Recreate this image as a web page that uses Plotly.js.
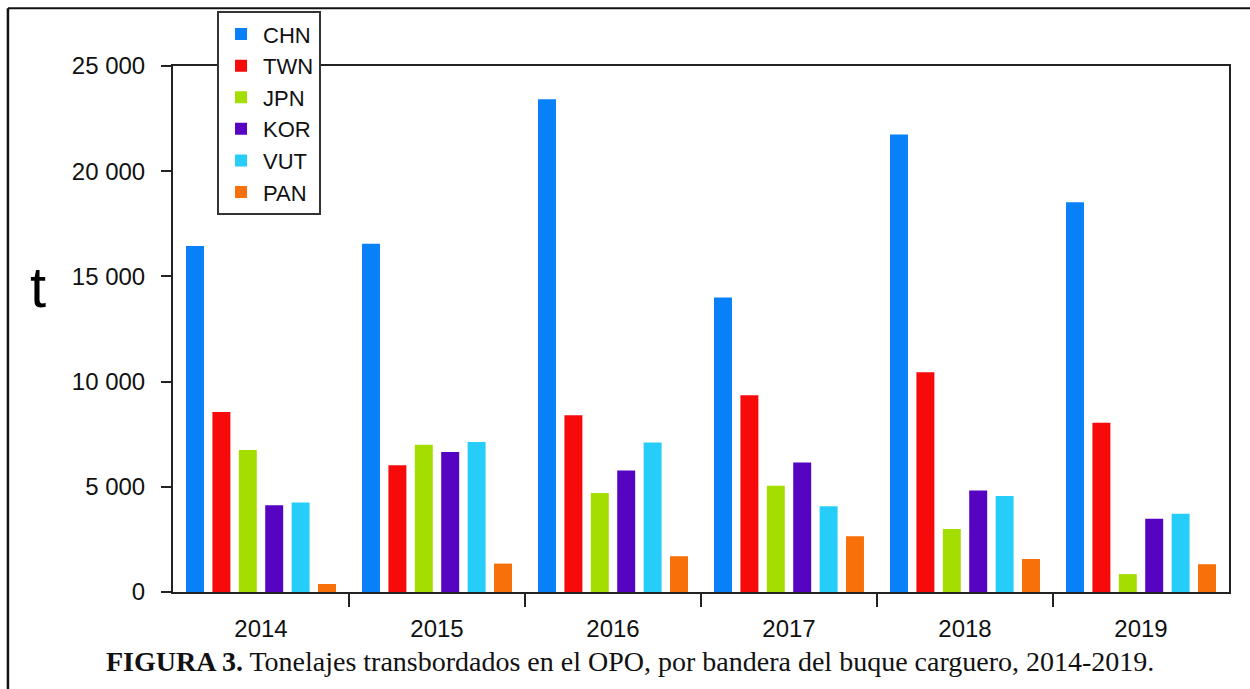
<!DOCTYPE html>
<html>
<head>
<meta charset="utf-8">
<script src="https://cdn.plot.ly/plotly-3.0.1.min.js"></script>
<style>html,body{margin:0;padding:0;background:#fff;}#chart{width:1250px;height:689px;}</style>
</head>
<body>
<div id="chart"></div>
<script>
const years = ['2014', '2015', '2016', '2017', '2018', '2019'];
const CHN = [16450, 16550, 23420, 14000, 21750, 18530];
const TWN = [8550, 6020, 8400, 9350, 10450, 8050];
const JPN = [6750, 7000, 4700, 5050, 3000, 850];
const KOR = [4120, 6650, 5780, 6150, 4820, 3480];
const VUT = [4250, 7130, 7100, 4080, 4560, 3720];
const PAN = [380, 1350, 1700, 2650, 1570, 1320];
const seriesNames = ['CHN', 'TWN', 'JPN', 'KOR', 'VUT', 'PAN'];
const seriesColors = ['#0880f7', '#f70a0a', '#a4dd00', '#5604c2', '#27cdf9', '#f7700a'];
const yTickVals = [0, 5000, 10000, 15000, 20000, 25000];
const yTickText = ['0', '5 000', '10 000', '15 000', '20 000', '25 000'];
const groupBoundaries = [0.5, 1.5, 2.5, 3.5, 4.5];
const yTitle = 't';
const caption = '<b>FIGURA 3.</b> Tonelajes transbordados en el OPO, por bandera del buque carguero, 2014-2019.';

const seriesValues = [CHN, TWN, JPN, KOR, VUT, PAN];
const traces = seriesNames.map((n, i) => ({
  type: 'bar', name: n, x: years, y: seriesValues[i],
  marker: {color: seriesColors[i], line: {width: 0}}
}));
traces.push({type: 'scatter', x: [], y: [], xaxis: 'x2', showlegend: false, hoverinfo: 'skip'});

const font = {family: 'Liberation Sans, Arial, sans-serif', size: 24, color: '#111'};
const layout = {
  width: 1250, height: 689,
  margin: {l: 173, r: 21, t: 65, b: 97},
  paper_bgcolor: '#fff', plot_bgcolor: '#fff',
  font: font,
  barmode: 'group', bargap: 0.1, bargroupgap: 0.32,
  showlegend: true,
  legend: {x: 0.0417, y: 1.102, xanchor: 'left', yanchor: 'top', bgcolor: '#fff',
    bordercolor: '#333', borderwidth: 2, font: {family: font.family, size: 22, color: '#111'},
    traceorder: 'normal', itemwidth: 34},
  xaxis: {type: 'category', showline: true, linecolor: '#222', linewidth: 2, mirror: true,
    ticks: '', showgrid: false, zeroline: false, ticklabelstandoff: 14,
    tickfont: {family: font.family, size: 24, color: '#111'}},
  xaxis2: {overlaying: 'x', anchor: 'y', side: 'bottom', range: [-0.5, 5.5], tickmode: 'array',
    tickvals: groupBoundaries, ticks: 'outside', ticklen: 14, tickwidth: 2, tickcolor: '#222',
    showticklabels: false, showgrid: false, zeroline: false, showline: false},
  yaxis: {range: [0, 25000], tickmode: 'array', tickvals: yTickVals, ticktext: yTickText,
    showline: true, linecolor: '#222', linewidth: 2, mirror: true, ticks: 'outside',
    ticklen: 10, tickwidth: 2, tickcolor: '#222', showgrid: false, zeroline: false,
    ticklabelstandoff: 11, tickfont: {family: font.family, size: 24, color: '#111'}},
  annotations: [
    {text: yTitle, xref: 'paper', yref: 'paper', x: -0.128, y: 0.581, showarrow: false,
      font: {family: font.family, size: 58, color: '#000'}, xanchor: 'center', yanchor: 'middle'},
    {text: caption, xref: 'paper', yref: 'paper', x: 0.433, y: -0.133, showarrow: false,
      font: {family: 'Liberation Serif, Times New Roman, serif', size: 28, color: '#111'},
      xanchor: 'center', yanchor: 'middle'}
  ],
  shapes: [
    {type: 'line', xref: 'paper', yref: 'paper', x0: -0.1563, x1: 1.03, y0: 1.110, y1: 1.110,
      line: {color: '#111', width: 2}},
    {type: 'line', xref: 'paper', yref: 'paper', x0: -0.1563, x1: -0.1563, y0: 1.110, y1: -0.19,
      line: {color: '#111', width: 2.5}}
  ]
};
Plotly.newPlot('chart', traces, layout, {displayModeBar: false, staticPlot: true});
</script>
</body>
</html>
